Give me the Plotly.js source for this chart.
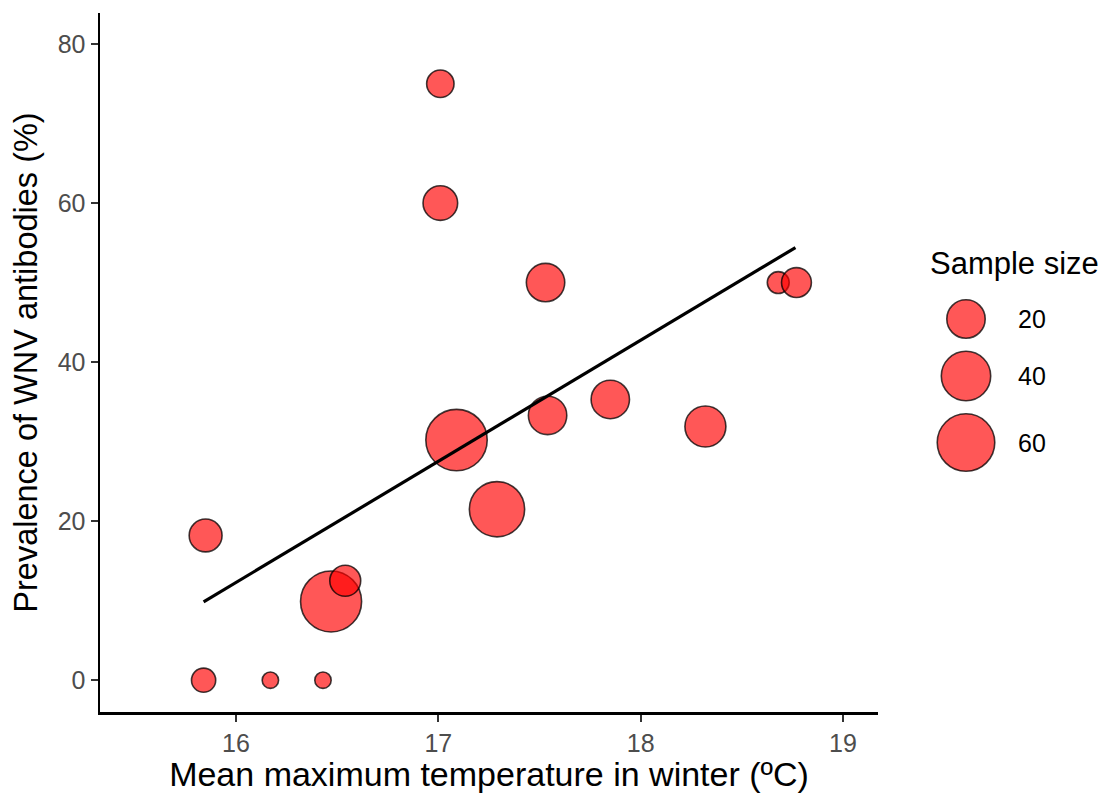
<!DOCTYPE html>
<html>
<head>
<meta charset="utf-8">
<script src="https://cdn.plot.ly/plotly-3.0.1.min.js"></script>
<style>
html, body { margin: 0; padding: 0; background: #fff; }
#chart { width: 1118px; height: 793px; }
</style>
</head>
<body>
<div id="chart"></div>
<script>
// ---- data ----
const temperature = [15.84, 15.85, 16.17, 16.43, 16.47, 16.54, 17.01, 17.01, 17.09, 17.29, 17.53, 17.54, 17.85, 18.32, 18.68, 18.77];
const prevalence  = [0, 18.2, 0, 0, 9.9, 12.5, 75, 60, 30.2, 21.5, 50, 33.3, 35.3, 31.9, 50, 50];
const sampleSize  = [6, 13, 4, 4, 70, 11, 8, 15, 71, 54, 20, 20, 20, 24, 5, 10];
// fitted trend line endpoints
const trendX = [15.84, 18.765];
const trendY = [9.85, 54.4];
// legend breaks
const legendBreaks = [20, 40, 60];
const legendTitle = "Sample size";

// ---- size scale (area-like, as ggplot scale_size) ----
const nMin = Math.min(...sampleSize), nMax = Math.max(...sampleSize);
const dLo = 18, dHi = 63, stroke = 1.6;
function sizeScale(n) {
  const t = Math.max(0, (n - nMin) / (nMax - nMin));
  return dLo + (dHi - dLo) * Math.sqrt(t) - stroke;
}

const fillCol = 'rgba(255,0,0,0.66)';
const lineCol = 'rgba(0,0,0,0.75)';
const font = '"Liberation Sans", Arial, Helvetica, sans-serif';

// geometry (pixels)
const W = 1118, H = 793;
const mL = 100, mR = 0, mT = 13, mB = 81;
const plotRight = 878;
const paperW = W - mL - mR, paperH = H - mT - mB;
const mainDomainEnd = (plotRight - mL) / paperW;
const legDomainStart = 0.79;
const legPxLeft = mL + legDomainStart * paperW, legPxRight = W - mR;

// legend key layout (stacked)
const legendD = legendBreaks.map(b => sizeScale(b) + stroke);
const legendYpx = [];
let cy = 319;
legendD.forEach((d, i) => {
  if (i > 0) cy += (legendD[i - 1] + d) / 2 + 11.5;
  legendYpx.push(cy);
});
const legendKeyX = 966;
const legendLabelX = 1016;

const traces = [
  {
    type: 'scatter', mode: 'markers',
    x: temperature, y: prevalence,
    marker: {
      size: sampleSize.map(sizeScale), sizemode: 'diameter', opacity: 1,
      color: fillCol, line: { color: lineCol, width: stroke }
    },
    hoverinfo: 'x+y', showlegend: false, cliponaxis: false
  },
  {
    type: 'scatter', mode: 'lines',
    x: trendX, y: trendY,
    line: { color: '#000', width: 3.2 },
    showlegend: false, hoverinfo: 'skip'
  },
  {
    type: 'scatter', mode: 'markers',
    xaxis: 'x2', yaxis: 'y2',
    x: legendBreaks.map(() => legendKeyX), y: legendYpx,
    marker: {
      size: legendBreaks.map(sizeScale), sizemode: 'diameter', opacity: 1,
      color: fillCol, line: { color: lineCol, width: stroke }
    },
    showlegend: false, hoverinfo: 'skip', cliponaxis: false
  }
];

const annotations = legendBreaks.map((b, i) => ({
  xref: 'x2', yref: 'y2', x: legendLabelX, y: legendYpx[i],
  text: String(b), showarrow: false, xanchor: 'left', yanchor: 'middle',
  font: { family: font, size: 25, color: '#000' }
}));
annotations.push({
  xref: 'x2', yref: 'y2', x: 928, y: 263,
  text: legendTitle, showarrow: false, xanchor: 'left', yanchor: 'middle',
  font: { family: font, size: 31, color: '#000' }
});

const layout = {
  width: W, height: H,
  margin: { l: mL, r: mR, t: mT, b: mB, pad: 0 },
  paper_bgcolor: '#fff', plot_bgcolor: '#fff',
  showlegend: false,
  font: { family: font },
  xaxis: {
    domain: [0, mainDomainEnd],
    range: [15.328, 19.173],
    tickvals: [16, 17, 18, 19], ticktext: ['16', '17', '18', '19'],
    showgrid: false, zeroline: false,
    showline: true, linecolor: '#000', linewidth: 2.5,
    ticks: 'outside', ticklen: 7, tickwidth: 2.2, tickcolor: '#333',
    tickfont: { family: font, size: 25, color: '#4D4D4D' },
    title: { text: 'Mean maximum temperature in winter (ºC)', font: { family: font, size: 34, color: '#000' }, standoff: 5 },
    automargin: false, fixedrange: true
  },
  yaxis: {
    range: [-4.0, 83.9],
    tickvals: [0, 20, 40, 60, 80], ticktext: ['0', '20', '40', '60', '80'],
    showgrid: false, zeroline: false,
    showline: true, linecolor: '#000', linewidth: 2.5,
    ticks: 'outside', ticklen: 7, tickwidth: 2.2, tickcolor: '#333',
    tickfont: { family: font, size: 25, color: '#4D4D4D' },
    title: { text: 'Prevalence of WNV antibodies (%)', font: { family: font, size: 32.5, color: '#000' }, standoff: 11 },
    automargin: false, fixedrange: true
  },
  xaxis2: {
    domain: [legDomainStart, 1], range: [legPxLeft, legPxRight],
    visible: false, anchor: 'y2', fixedrange: true
  },
  yaxis2: {
    domain: [0, 1], range: [H - mB, mT],
    visible: false, anchor: 'x2', fixedrange: true
  },
  annotations: annotations
};

Plotly.newPlot('chart', traces, layout, { displayModeBar: false, staticPlot: true });
</script>
</body>
</html>
